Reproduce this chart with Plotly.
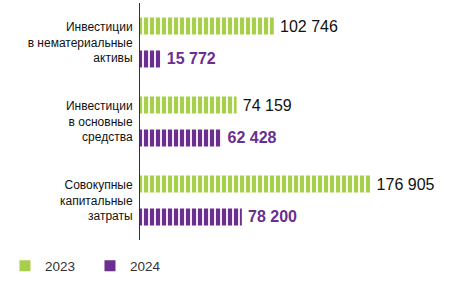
import plotly.graph_objects as go

categories = ["Инвестиции<br>в нематериальные<br>активы",
              "Инвестиции<br>в основные<br>средства",
              "Совокупные<br>капитальные<br>затраты"]
values_2023 = [102746, 74159, 176905]
values_2024 = [15772, 62428, 78200]
series_names = ["2023", "2024"]

GREEN = "#a8cf4c"
PURPLE = "#6b2e91"


def fmt(v):
    return "\u2009" + f"{v:,}".replace(",", " ")


fig = go.Figure()
fig.add_trace(go.Bar(
    y=categories, x=values_2023, orientation="h", name=series_names[0],
    marker=dict(color=GREEN, line=dict(width=0),
                pattern=dict(shape="|", fgcolor="white", bgcolor=GREEN,
                             size=6, solidity=0.3, fillmode="replace")),
    text=[fmt(v) for v in values_2023], textposition="outside",
    constraintext="none",
    textfont=dict(family="Liberation Sans, Arial", size=16, color="#111111"),
    cliponaxis=False, showlegend=False,
))
fig.add_trace(go.Bar(
    y=categories, x=values_2024, orientation="h", name=series_names[1],
    marker=dict(color=PURPLE, line=dict(width=0),
                pattern=dict(shape="|", fgcolor="white", bgcolor=PURPLE,
                             size=6, solidity=0.3, fillmode="replace")),
    text=["<b>" + fmt(v) + "</b>" for v in values_2024], textposition="outside",
    constraintext="none",
    textfont=dict(family="Liberation Sans, Arial", size=16, color=PURPLE),
    cliponaxis=False, showlegend=False,
))
# legend entries (solid squares)
for name, col in zip(series_names, [GREEN, PURPLE]):
    fig.add_trace(go.Scatter(y=[None], x=[None], mode="markers", name=name,
                             marker=dict(color=col, symbol="square", size=11,
                                         line=dict(width=0)),
                             showlegend=True))

fig.update_layout(
    width=463, height=292,
    margin=dict(l=140, r=0, t=3, b=52),
    paper_bgcolor="white", plot_bgcolor="white",
    barmode="group", bargap=0.165, bargroupgap=0.485,
    font=dict(family="Liberation Sans, Arial", color="#1a1a1a"),
    xaxis=dict(range=[0, 248000], showgrid=False, zeroline=False,
               showticklabels=False, showline=False, fixedrange=True),
    yaxis=dict(autorange="reversed", showline=True, linecolor="#333333",
               linewidth=1, ticks="", showgrid=False,
               tickfont=dict(size=12, color="#111111"),
               ticklabelstandoff=4),
    legend=dict(orientation="h", x=-0.418, xanchor="left",
                y=-0.11, yanchor="middle",
                font=dict(size=13.5, color="#333333"),
                entrywidth=40, entrywidthmode="pixels"),
    showlegend=True,
)

fig.write_html("out.html")
